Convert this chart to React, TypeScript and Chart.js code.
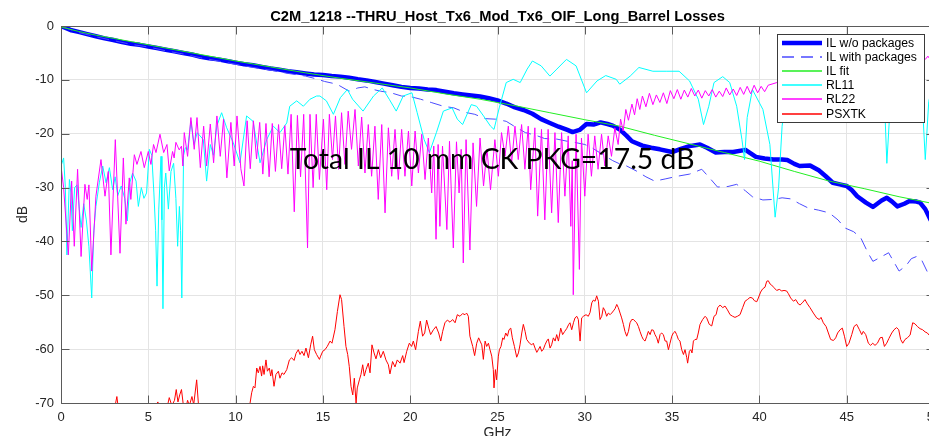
import React, { useEffect, useRef } from "react";
import { Chart, registerables } from "chart.js";

Chart.register(...registerables);

// ---------- text ----------
const TITLE = "C2M_1218 --THRU_Host_Tx6_Mod_Tx6_OIF_Long_Barrel Losses";
const X_LABEL = "GHz";
const Y_LABEL = "dB";
const ANNOTATION = "Total IL 10 mm CK PKG=17.5 dB";
const ANNOTATION_AT: [number, number] = [13.1, -26.6];
const SERIES_NAMES = ["IL w/o packages", "IL with packages", "IL fit", "RL11", "RL22", "PSXTK"];

// ---------- axes ----------
const X_TICKS = [0, 5, 10, 15, 20, 25, 30, 35, 40, 45, 50];
const Y_TICKS = [-70, -60, -50, -40, -30, -20, -10, 0];

// ---------- data: [GHz, dB] ----------
const ilNoPkg: [number, number][] = [
  [0, 0], [0.3, -0.4], [0.6, -0.8], [1, -1.1], [1.5, -1.5], [2, -1.9], [2.5, -2.3], [3, -2.6], [3.5, -3.0],
  [4, -3.3], [4.5, -3.5], [5, -3.8], [5.5, -4.1], [6, -4.4], [6.5, -4.7], [7, -5.0], [7.5, -5.3], [8, -5.7],
  [8.5, -6.0], [9, -6.2], [9.5, -6.5], [10, -6.8], [10.5, -7.1], [11, -7.3], [11.5, -7.6], [12, -7.9],
  [12.5, -8.1], [13, -8.4], [13.5, -8.6], [14, -8.8], [14.5, -9.0], [15, -9.1], [15.5, -9.3], [16, -9.4],
  [16.5, -9.6], [17, -9.9], [17.5, -10.1], [18, -10.4], [18.5, -10.7], [19, -11.0], [19.5, -11.3], [20, -11.5],
  [20.5, -11.6], [21, -11.8], [21.5, -11.9], [22, -12.2], [22.5, -12.5], [23, -12.7], [23.5, -12.9], [24, -13.1],
  [24.5, -13.4], [25, -13.8], [25.5, -14.4], [26, -15.1], [26.5, -15.6], [27, -16.3], [27.5, -17.3], [28, -18.0],
  [28.5, -18.7], [29, -19.3], [29.3, -19.7], [29.7, -19.3], [30.1, -18.2], [30.5, -18.3], [30.9, -17.9],
  [31.3, -18.2], [31.6, -18.5], [32, -19.2], [32.4, -20.4], [32.7, -21.4], [33.3, -22.2], [33.8, -22.6],
  [34.3, -22.9], [35, -23.4], [35.5, -22.8], [36, -22.3], [36.6, -22.0], [37, -22.6], [37.5, -23.5], [38, -23.4],
  [38.5, -23.4], [39.2, -23.0], [39.8, -24.3], [40.3, -24.6], [40.8, -24.8], [41.3, -24.8], [41.6, -24.9],
  [42, -25.6], [42.3, -26.0], [42.9, -25.9], [43.4, -26.8], [43.8, -27.9], [44.2, -29.1], [44.6, -29.4],
  [45, -29.7], [45.3, -30.5], [45.6, -31.6], [46.1, -32.8], [46.5, -33.6], [47, -32.4], [47.3, -31.9],
  [47.6, -32.6], [47.9, -33.5], [48.3, -33.0], [48.6, -32.5], [49, -32.6], [49.2, -32.8], [49.5, -34.0],
  [49.8, -36.0], [50, -37.0],
];

const ilWithPkg: [number, number][] = [
  [0, 0], [1, -1.2], [2, -2.0], [3, -2.7], [4, -3.4], [5, -3.9], [6, -4.6], [7, -5.2], [8, -5.9], [9, -6.5],
  [10, -7.1], [11, -7.7], [12, -8.2], [13, -8.8], [14, -9.3], [14.6, -9.8], [15.1, -10.3], [15.8, -10.8],
  [16.5, -12.1], [17.0, -11.5], [17.4, -11.3], [17.9, -11.8], [18.3, -12.1], [18.9, -12.4], [19.5, -13.0],
  [20.0, -13.1], [20.6, -13.6], [21.2, -14.2], [21.9, -14.9], [22.5, -15.2], [23.1, -16.0], [23.7, -16.4],
  [24.3, -17.2], [24.9, -17.3], [25.5, -17.7], [26.1, -18.9], [26.6, -19.8], [27.2, -20.3], [27.7, -20.9],
  [28.4, -21.0], [29.0, -21.4], [29.4, -21.6], [30.0, -22.0], [30.4, -22.6], [31.0, -23.8], [31.6, -25.0],
  [32.0, -25.6], [32.4, -26.0], [33.0, -27.0], [33.5, -28.0], [34.0, -28.8], [34.6, -28.4], [35.3, -27.9],
  [36.0, -27.5], [36.7, -26.6], [37.2, -28.4], [37.6, -29.9], [38.2, -29.8], [38.7, -29.4], [39.2, -30.6],
  [39.6, -31.7], [40.2, -32.3], [40.8, -32.2], [41.3, -31.9], [41.8, -32.1], [42.3, -33.0], [42.8, -33.8],
  [43.4, -34.2], [44.0, -34.7], [44.5, -36.0], [44.9, -37.5], [45.4, -38.2], [45.8, -39.3], [46.2, -42.0],
  [46.5, -43.7], [46.9, -43.0], [47.4, -42.1], [47.7, -43.8], [48.0, -45.5], [48.4, -44.5], [48.7, -43.2],
  [49.0, -42.8], [49.3, -43.5], [49.7, -46.2], [50, -47.5],
];

const ilFit: [number, number][] = [
  [0, -0.2], [1, -1.0], [2, -1.7], [3, -2.3], [4, -2.9], [6, -4.1], [8, -5.3], [10, -6.5], [12, -7.6],
  [14, -8.7], [16, -9.7], [18, -10.6], [20, -11.5], [22, -12.6], [24, -13.6], [26, -14.8], [28, -16.1],
  [30, -17.4], [32, -18.6], [34, -20.3], [36, -21.9], [38, -23.5], [40, -25.1], [42, -27.0], [44, -28.8],
  [46, -30.2], [48, -31.7], [50, -33.0],
];

const rl11: [number, number][] = [
  [0, -26], [0.15, -24.5], [0.25, -30], [0.34, -42.5], [0.48, -28.5], [0.57, -31], [0.65, -38], [0.78, -30],
  [0.92, -29.5], [1.05, -34], [1.15, -37.4], [1.3, -33], [1.45, -36], [1.6, -41], [1.76, -50.5], [1.88, -38],
  [2.0, -33.5], [2.2, -29], [2.39, -26], [2.58, -29.1], [2.77, -26.3], [2.96, -30.4], [3.1, -28], [3.25, -31.5],
  [3.45, -29.7], [3.65, -32], [3.8, -36.2], [3.95, -29], [4.1, -27.3], [4.3, -28.8], [4.43, -33.5], [4.6, -30],
  [4.75, -32], [4.9, -31], [5.06, -22.9], [5.2, -24], [5.32, -31], [5.42, -38], [5.5, -48.3], [5.6, -34],
  [5.73, -24.2], [5.78, -36], [5.84, -52.5], [5.92, -30], [6.0, -27.3], [6.15, -34], [6.3, -27], [6.45, -25.5],
  [6.58, -32], [6.68, -40.9], [6.78, -33.5], [6.85, -38], [6.92, -50.5], [7.02, -24], [7.12, -22.6],
  [7.25, -23], [7.44, -17.7], [7.62, -22], [7.8, -19.8], [8.15, -21.1], [8.34, -28.8], [8.55, -22],
  [8.73, -24], [8.93, -18.5], [9.2, -16.1], [9.49, -18.9], [9.87, -21.7], [10.25, -25.4], [10.63, -16.7],
  [11.0, -17.7], [11.4, -25.4], [11.78, -21.1], [12.16, -18.6], [12.54, -19.8], [12.93, -18.0], [13.1, -14.9],
  [13.5, -13.9], [13.88, -14.9], [14.26, -13.6], [14.64, -13.0], [14.83, -13.0], [15.2, -13.9], [15.6, -16.4],
  [16.0, -13.3], [16.4, -11.8], [16.7, -13.6], [17.3, -15.8], [17.9, -13.0], [18.4, -11.5], [18.8, -13.6],
  [19.2, -15.8], [19.6, -13.0], [20.1, -12.4], [20.4, -16.1], [20.8, -21.1], [21.1, -23.5], [21.5, -19.8],
  [21.9, -15.8], [22.4, -15.2], [22.7, -17.3], [23.0, -18.3], [23.5, -14.6], [23.8, -14.9], [24.2, -16.7],
  [24.6, -18.6], [24.8, -19.2], [25.1, -15.2], [25.5, -10.5], [25.9, -9.9], [26.3, -10.5], [26.7, -8.0],
  [27.0, -6.5], [27.5, -7.4], [28.0, -9.3], [28.4, -8.0], [28.95, -6.2], [29.5, -7.4], [30.1, -12.4],
  [30.7, -10.2], [31.2, -9.2], [31.8, -9.9], [32.0, -10.8], [32.6, -9.3], [33.1, -7.7], [33.9, -8.4],
  [34.7, -8.4], [35.4, -8.4], [36.0, -10.2], [36.5, -13.6], [36.8, -18.3], [37.1, -14.9], [37.4, -10.5],
  [37.9, -9.4], [38.3, -10.5], [38.7, -14.9], [39.0, -21.1], [39.15, -24.8], [39.3, -17], [39.6, -11.8],
  [40.2, -15.5], [40.6, -22], [40.9, -35.5], [41.1, -30], [41.3, -18.6], [41.5, -13.6], [41.8, -9],
  [42.5, -7.5], [43.5, -8], [44.5, -7], [45.5, -8.5], [46.5, -7.5], [47.0, -10], [47.2, -17], [47.3, -25.5],
  [47.45, -17], [47.6, -10], [48.3, -8], [49.0, -8.5], [49.3, -12], [49.5, -24.8], [49.7, -14], [50, -10],
];

const rl22: [number, number][] = [
  [0, -26.0], [0.15, -30], [0.42, -42.5], [0.61, -28.8], [0.76, -40.9], [0.95, -26.6], [1.15, -42.8],
  [1.37, -29.4], [1.5, -32.2], [1.6, -29.5], [1.76, -45.5], [2.0, -31.6], [2.29, -24.8], [2.52, -31.6],
  [2.71, -27], [2.86, -42.5], [3.11, -21.1], [3.38, -42.2], [3.57, -24.5], [3.72, -36.8], [3.91, -28.2],
  [4.0, -32.2], [4.2, -23.9], [4.35, -25.7], [4.58, -23.3], [4.77, -26.3], [5.0, -23.3], [5.15, -25.7],
  [5.3, -22.0], [5.44, -23.5], [5.67, -20.1], [5.88, -23.5], [6.07, -22.0], [6.2, -26.9], [6.39, -23.3],
  [6.48, -24.5], [6.58, -21.6], [6.77, -23], [6.9, -22.3], [6.98, -26], [7.06, -19.8], [7.25, -24.2],
  [7.44, -17], [7.63, -22.9], [7.79, -17], [7.98, -26.3], [8.17, -18.6], [8.34, -26.0], [8.55, -18.2],
  [8.74, -25.4], [8.93, -16.7], [9.12, -24.2], [9.31, -17.3], [9.5, -28.2], [9.73, -17.9], [9.92, -26.0],
  [10.08, -16.7], [10.3, -26.5], [10.48, -29.7], [10.66, -17.6], [10.84, -26.5], [11.02, -17.6],
  [11.2, -24.7], [11.38, -17.9], [11.56, -27.5], [11.74, -18.1], [11.92, -28], [12.1, -18.1], [12.28, -27],
  [12.46, -18.3], [12.64, -26.5], [12.82, -18.5], [13.0, -27.5], [13.18, -16.4], [13.36, -34.5],
  [13.54, -16.6], [13.72, -28], [13.9, -16.4], [14.12, -41.2], [14.26, -16.4], [14.44, -30], [14.62, -16.4],
  [14.8, -28.5],
  [15.03, -17.3], [15.22, -30.4], [15.37, -16.4], [15.55, -24.8], [15.72, -16.7], [15.9, -26.6],
  [16.07, -16.1], [16.26, -25.7], [16.45, -15.8], [16.64, -22.9], [16.84, -15.5], [17.03, -26.0],
  [17.22, -16.9], [17.41, -27.3], [17.6, -18.3], [17.79, -27.9], [17.98, -18.6], [18.17, -32.2],
  [18.37, -18.3], [18.56, -34.7], [18.75, -18.9], [18.94, -27.9], [19.13, -19.2], [19.32, -28.5],
  [19.51, -19.2], [19.7, -27.9], [19.9, -19.5], [20.09, -29.7], [20.28, -19.5], [20.47, -27.3],
  [20.66, -20.1], [20.85, -28.5], [21.04, -20.8], [21.23, -31.0], [21.35, -22.3], [21.48, -39.6],
  [21.6, -22.0], [21.7, -37.2], [21.85, -22.3], [22.1, -37.8], [22.25, -21.4], [22.47, -41.2],
  [22.65, -21.5], [22.8, -31], [22.92, -22.9], [23.04, -44.0], [23.2, -21.1], [23.42, -41.6], [23.6, -21.7],
  [23.8, -33.5], [24.0, -20.8], [24.2, -29.7], [24.4, -22.9], [24.6, -30.4], [24.85, -21.1], [25.05, -27.9],
  [25.23, -19.8], [25.43, -24.2], [25.62, -18.6], [25.81, -25.4], [26.0, -18.6], [26.19, -24.8],
  [26.38, -18.3], [26.57, -26.6], [26.76, -18.6], [26.9, -30.4], [27.14, -18.9], [27.3, -35.3],
  [27.52, -19.2], [27.71, -36.0], [27.9, -19.2], [28.1, -34.7], [28.29, -19.8], [28.48, -36.5],
  [28.67, -19.8], [28.86, -31.6], [29.05, -20.4], [29.2, -37.2], [29.28, -25], [29.34, -49.9], [29.5, -20.1],
  [29.69, -45.2], [29.81, -20.8], [30.0, -31.6], [30.19, -20.1], [30.38, -27.9], [30.57, -20.4],
  [30.76, -26.6], [30.96, -20.1], [31.15, -26.0], [31.34, -20.4], [31.53, -24.2], [31.72, -18.9],
  [31.91, -22.0], [32.05, -17.3], [32.2, -19.5], [32.35, -15.5], [32.5, -17.5], [32.7, -14.5], [32.85, -16.5],
  [33.0, -13.5], [33.15, -15.5], [33.3, -13.0], [33.5, -15.0], [33.7, -12.5], [33.9, -14.6], [34.1, -12.8],
  [34.3, -14.2], [34.5, -12.4], [34.7, -14.4], [34.9, -12.0], [35.1, -13.5], [35.3, -11.8], [35.5, -13.6],
  [35.7, -11.9], [35.9, -13.2], [36.1, -11.6], [36.3, -13.0], [36.5, -11.9], [36.7, -13.4], [36.9, -12.0],
  [37.1, -13.0], [37.3, -11.8], [37.5, -13.2], [37.7, -12.1], [37.9, -13.1], [38.1, -11.5], [38.3, -12.8],
  [38.5, -11.7], [38.7, -12.9], [38.9, -11.4], [39.1, -12.7], [39.3, -11.2], [39.5, -12.6], [39.7, -11.0],
  [39.9, -12.4], [40.1, -11.2], [40.3, -12.2], [40.5, -11.0], [41, -10.5], [42, -10], [43, -9.5], [44, -9],
  [45, -8.5], [46, -8], [47, -7.5], [48, -7], [49, -6.5], [49.5, -6.2], [49.65, -5.6], [49.8, -6.3], [50, -5.6],
];

const psxtk: [number, number][] = [
  [0, -78], [1, -80], [2, -77], [2.9, -76], [3.1, -70.5], [3.2, -68.8], [3.3, -71.5], [3.6, -76], [4.5, -78],
  [5.3, -74], [5.45, -70.3], [5.55, -69.8], [5.65, -71], [6.0, -72], [6.2, -69], [6.35, -70.5], [6.5, -69.5],
  [6.6, -67.5], [6.7, -69.8], [6.8, -68.5], [6.9, -67.5], [7.0, -70.2], [7.15, -71], [7.25, -69.5],
  [7.35, -70.5], [7.5, -68.8], [7.6, -70.3], [7.77, -65.7], [7.9, -71.5], [8.2, -76], [9, -78], [9.7, -72],
  [9.8, -70], [9.9, -71], [10.05, -69.9], [10.2, -72], [10.6, -74],
  [10.83, -70], [10.92, -68.1], [11.02, -66.9], [11.11, -67.2], [11.21, -63.5], [11.3, -64.4], [11.4, -63.2],
  [11.49, -65.0], [11.55, -63.1], [11.63, -64.7], [11.74, -62.0], [11.82, -64.1], [11.93, -63.5],
  [12.01, -65.0], [12.08, -63.8], [12.2, -66.9], [12.31, -64.7], [12.45, -64.1], [12.54, -65.4],
  [12.66, -64.4], [12.77, -64.7], [12.93, -63.8], [13.08, -62.0], [13.21, -61.6], [13.35, -62.1],
  [13.46, -60.8], [13.59, -60.1], [13.69, -61.0], [13.8, -60.4], [13.92, -61.2], [14.03, -59.8],
  [14.17, -61.6], [14.3, -59.2], [14.41, -57.6], [14.51, -60.1], [14.64, -61.0], [14.8, -61.9],
  [14.87, -61.3], [14.99, -60.4], [15.12, -60.1], [15.25, -59.5], [15.41, -58.5], [15.52, -58.9],
  [15.69, -56.4], [15.83, -53.0], [15.98, -49.9], [16.07, -50.8], [16.21, -55.8], [16.32, -59.5],
  [16.42, -61.0], [16.51, -63.2], [16.61, -66.9], [16.71, -68.5], [16.8, -65.4], [16.9, -70],
  [16.97, -67.2], [17.09, -65.7], [17.18, -64.7], [17.28, -62.9], [17.37, -65.0], [17.47, -63.8],
  [17.6, -62.6], [17.7, -64.4], [17.81, -59.2], [17.93, -60.7], [18.04, -61.8], [18.18, -60.1],
  [18.31, -61.6], [18.46, -60.4], [18.61, -62.0], [18.75, -62.9], [18.84, -64.6], [18.99, -62.3],
  [19.13, -63.3], [19.26, -62.0], [19.42, -62.6], [19.57, -61.2], [19.65, -62.5], [19.8, -60.4],
  [19.95, -58.9], [20.08, -59.5], [20.18, -58.5], [20.31, -60.1], [20.47, -56.7], [20.58, -54.8],
  [20.71, -57.6], [20.83, -57.0], [20.94, -54.6], [21.06, -56.1], [21.17, -57.3], [21.33, -56.4],
  [21.48, -55.8], [21.63, -57.0], [21.75, -58.5], [21.86, -56.7], [21.99, -55.1], [22.13, -54.6],
  [22.28, -55.0], [22.43, -54.5], [22.57, -55.1], [22.7, -53.6], [22.85, -53.9], [23.0, -53.4],
  [23.14, -53.6], [23.23, -53.3], [23.33, -53.9], [23.42, -57.6], [23.58, -59.5], [23.69, -61.2],
  [23.81, -58.9], [23.92, -57.9], [24.0, -58.5], [24.1, -59.2], [24.19, -61.9], [24.29, -58.5],
  [24.38, -59.5], [24.48, -58.9], [24.57, -60.1], [24.67, -61.3], [24.76, -63.8], [24.8, -67.2],
  [24.88, -63.8], [24.95, -65.7], [25.05, -61.3], [25.11, -60.1], [25.2, -59.5], [25.3, -57.9],
  [25.37, -58.2], [25.47, -57.0], [25.57, -57.6], [25.66, -56.4], [25.76, -56.1], [25.85, -57.9],
  [25.97, -59.5], [26.1, -61.5], [26.2, -60.7], [26.29, -59.2], [26.39, -57.0], [26.48, -55.4],
  [26.58, -56.7], [26.67, -58.2], [26.83, -58.9], [26.96, -59.2], [27.05, -58.9], [27.15, -59.8],
  [27.25, -60.6], [27.34, -60.1], [27.44, -59.5], [27.53, -60.4], [27.63, -60.0], [27.72, -59.2],
  [27.82, -58.5], [27.91, -58.1], [28.01, -59.8], [28.1, -59.2], [28.2, -57.9], [28.3, -58.5],
  [28.39, -57.3], [28.49, -58.5], [28.62, -56.1], [28.73, -57.3], [28.85, -56.7], [28.96, -56.2],
  [29.08, -55.4], [29.15, -55.1], [29.25, -56.4], [29.35, -55.1], [29.44, -54.2], [29.54, -53.9],
  [29.63, -54.5], [29.73, -58.5], [29.82, -54.2], [29.92, -53.9], [30.07, -53.6], [30.2, -53.9],
  [30.3, -53.2], [30.4, -51.4], [30.49, -50.9], [30.59, -51.1], [30.68, -50.1], [30.78, -51.1],
  [30.87, -54.5], [30.97, -53.9], [31.06, -52.3], [31.16, -52.9], [31.25, -53.9], [31.35, -53.3],
  [31.45, -53.6], [31.54, -53.3], [31.64, -52.9], [31.73, -52.5], [31.83, -51.7], [31.92, -52.3],
  [32.02, -53.3], [32.11, -54.2], [32.21, -55.4], [32.3, -56.7], [32.4, -57.6], [32.5, -56.7],
  [32.59, -55.1], [32.69, -54.5], [32.78, -54.5], [32.88, -54.8], [32.97, -55.1], [33.07, -55.8],
  [33.16, -56.7], [33.26, -57.6], [33.35, -58.2], [33.45, -58.5], [33.55, -57.6], [33.64, -56.7],
  [33.74, -57.3], [33.83, -56.4], [33.93, -56.5], [34.02, -57.3], [34.12, -57.9], [34.21, -58.9],
  [34.31, -57.3], [34.4, -57.0], [34.5, -57.3], [34.6, -58.5], [34.69, -58.5], [34.79, -60.1],
  [34.88, -58.9], [34.98, -57.6], [35.07, -57.0], [35.17, -56.7], [35.26, -57.3], [35.36, -58.2],
  [35.45, -58.5], [35.55, -60.1], [35.65, -61.0], [35.74, -60.1], [35.84, -61.6], [35.89, -62.6],
  [35.99, -60.4], [36.07, -60.1], [36.14, -60.7], [36.22, -58.5], [36.31, -58.2], [36.41, -58.2],
  [36.5, -57.0], [36.6, -55.4], [36.75, -54.5], [36.89, -53.9], [36.98, -54.2], [37.13, -55.4],
  [37.27, -55.7], [37.4, -53.9], [37.52, -53.6], [37.61, -52.3], [37.75, -51.8], [37.9, -52.3],
  [38.03, -52.0], [38.17, -52.7], [38.32, -53.6], [38.47, -53.9], [38.6, -54.1], [38.74, -53.9],
  [38.89, -53.6], [39.04, -52.3], [39.18, -51.1], [39.31, -50.8], [39.46, -50.4], [39.6, -50.5],
  [39.71, -51.0], [39.85, -51.2], [39.94, -50.5], [40.07, -49.4], [40.19, -48.8], [40.32, -48.5],
  [40.42, -47.4], [40.51, -47.3], [40.61, -47.9], [40.7, -48.1], [40.84, -48.6], [40.99, -49.1],
  [41.14, -48.9], [41.28, -49.2], [41.41, -49.1], [41.56, -49.2], [41.66, -49.7], [41.79, -50.5],
  [41.95, -51.1], [42.08, -50.8], [42.23, -51.6], [42.33, -51.8], [42.46, -51.4], [42.61, -50.8],
  [42.75, -51.6], [42.9, -52.3], [43.09, -53.3], [43.28, -54.2], [43.43, -54.5], [43.53, -54.1],
  [43.66, -55.1], [43.82, -55.8], [43.95, -57.0], [44.08, -58.2], [44.24, -58.4], [44.37, -57.9],
  [44.48, -57.0], [44.62, -56.4], [44.75, -56.1], [44.87, -57.6], [45.0, -59.5], [45.13, -58.9],
  [45.29, -57.3], [45.42, -55.8], [45.57, -55.4], [45.73, -56.4], [45.86, -57.3], [45.95, -56.7],
  [46.09, -57.3], [46.24, -58.9], [46.37, -59.3], [46.49, -58.9], [46.62, -59.3], [46.76, -58.9],
  [46.91, -57.9], [47.04, -57.8], [47.16, -59.5], [47.29, -58.9], [47.42, -58.0], [47.58, -57.0],
  [47.71, -56.4], [47.86, -56.0], [47.98, -56.4], [48.09, -58.2], [48.21, -58.9], [48.34, -58.2],
  [48.47, -57.9], [48.63, -57.4], [48.78, -55.1], [48.91, -55.3], [49.05, -55.8], [49.2, -56.2],
  [49.35, -56.4], [49.49, -56.8], [49.62, -57.0], [49.72, -57.4], [50, -58.0],
];

// ---------- styles ----------
const COLORS = ["#0000ff", "#4b4bff", "#22ee22", "#00ffff", "#ff00ff", "#ff0000"];
const WIDTHS = [4.5, 1, 1, 1, 1, 1];
const DASH = [12, 7];
const AXIS_COLOR = "#5a5a5a";
const GRID_COLOR = "#e4e4e4";
const TEXT_COLOR = "#262626";
const SANS = "'Liberation Sans', Arial, sans-serif";

const CANVAS_W = 950;
const CANVAS_H = 446;

function fitSize(ctx: CanvasRenderingContext2D, text: string, weight: string, family: string, target: number) {
  ctx.font = `${weight} 100px ${family}`;
  const w = ctx.measureText(text).width;
  return (100 * target) / w;
}

export default function App() {
  const ref = useRef<HTMLCanvasElement>(null);

  useEffect(() => {
    const canvas = ref.current!;
    const toXY = (arr: [number, number][]) => arr.map(([x, y]) => ({ x, y }));
    const all = [ilNoPkg, ilWithPkg, ilFit, rl11, rl22, psxtk];

    const decor = {
      id: "decor",
      afterDatasetsDraw(chart: any) {
        const { ctx, chartArea: a, scales } = chart;
        const xs = scales.x;
        const ys = scales.y;
        ctx.save();

        // annotation text
        const aSize = fitSize(ctx, ANNOTATION, "400", "Lato, 'Open Sans', sans-serif", 405);
        ctx.font = `400 ${aSize}px Lato, 'Open Sans', sans-serif`;
        ctx.fillStyle = "#000";
        ctx.textAlign = "left";
        ctx.textBaseline = "alphabetic";
        ctx.fillText(ANNOTATION, xs.getPixelForValue(ANNOTATION_AT[0]), ys.getPixelForValue(ANNOTATION_AT[1]));

        // box
        ctx.strokeStyle = AXIS_COLOR;
        ctx.lineWidth = 1;
        const L = Math.round(a.left) + 0.5;
        const T = Math.round(a.top) + 0.5;
        const R = Math.round(a.right) + 0.5;
        const B = Math.round(a.bottom) + 0.5;
        ctx.beginPath();
        ctx.moveTo(L, T);
        ctx.lineTo(R, T);
        ctx.lineTo(R, B);
        ctx.lineTo(L, B);
        ctx.closePath();
        ctx.stroke();

        // inward ticks
        ctx.beginPath();
        X_TICKS.forEach((v) => {
          const px = Math.round(xs.getPixelForValue(v)) + 0.5;
          ctx.moveTo(px, B);
          ctx.lineTo(px, B - 8);
          ctx.moveTo(px, T);
          ctx.lineTo(px, T + 8);
        });
        Y_TICKS.forEach((v) => {
          const py = Math.round(ys.getPixelForValue(v)) + 0.5;
          ctx.moveTo(L, py);
          ctx.lineTo(L + 8, py);
          ctx.moveTo(R, py);
          ctx.lineTo(R - 8, py);
        });
        ctx.stroke();

        // legend
        const lw = 147;
        const lh = 88;
        const lx = Math.round(a.right) - 10 - lw;
        const ly = Math.round(a.top) + 8;
        ctx.fillStyle = "#fff";
        ctx.fillRect(lx, ly, lw, lh);
        ctx.strokeStyle = "#3a3a3a";
        ctx.lineWidth = 1;
        ctx.strokeRect(lx + 0.5, ly + 0.5, lw, lh);
        const lSize = fitSize(ctx, SERIES_NAMES[1], "400", SANS, 91);
        SERIES_NAMES.forEach((name, i) => {
          const cy = Math.round(ly + 9 + i * 14.1);
          ctx.save();
          ctx.strokeStyle = COLORS[i];
          ctx.lineWidth = i === 0 ? WIDTHS[i] : 1.3;
          ctx.setLineDash(i === 1 ? DASH : []);
          ctx.beginPath();
          ctx.moveTo(lx + 5, cy);
          ctx.lineTo(lx + 45, cy);
          ctx.stroke();
          ctx.restore();
          ctx.fillStyle = "#000";
          ctx.font = `400 ${lSize}px ${SANS}`;
          ctx.textAlign = "left";
          ctx.textBaseline = "middle";
          ctx.fillText(name, lx + 49, cy + 0.5);
        });

        // title
        const tSize = fitSize(ctx, TITLE, "700", SANS, 455);
        ctx.font = `700 ${tSize}px ${SANS}`;
        ctx.fillStyle = "#000";
        ctx.textAlign = "center";
        ctx.textBaseline = "alphabetic";
        ctx.fillText(TITLE, (a.left + a.right) / 2, 20.5);

        // axis labels
        ctx.font = `400 14px ${SANS}`;
        ctx.fillStyle = TEXT_COLOR;
        ctx.fillText(X_LABEL, (a.left + a.right) / 2, 437);
        ctx.save();
        ctx.translate(27, (a.top + a.bottom) / 2);
        ctx.rotate(-Math.PI / 2);
        ctx.textAlign = "center";
        ctx.fillText(Y_LABEL, 0, 0);
        ctx.restore();

        ctx.restore();
      },
    };

    const chart = new Chart(canvas, {
      type: "line",
      data: {
        datasets: all.map((arr, i) => ({
          label: SERIES_NAMES[i],
          data: toXY(arr),
          borderColor: COLORS[i],
          backgroundColor: COLORS[i],
          borderWidth: WIDTHS[i],
          borderDash: i === 1 ? DASH : [],
          pointRadius: 0,
          tension: 0,
          fill: false,
          borderJoinStyle: "round",
          borderCapStyle: i === 0 ? "round" : "butt",
          order: 6 - i,
        })),
      },
      options: {
        animation: false,
        responsive: false,
        devicePixelRatio: 1,
        parsing: true,
        layout: { padding: { left: 0, top: 26, right: CANVAS_W - 934, bottom: 0 } },
        plugins: { legend: { display: false }, tooltip: { enabled: false }, title: { display: false } },
        scales: {
          x: {
            type: "linear",
            min: 0,
            max: 50,
            afterBuildTicks: (axis: any) => {
              axis.ticks = X_TICKS.map((v) => ({ value: v }));
            },
            afterFit: (s: any) => {
              s.height = CANVAS_H - 403;
            },
            grid: { color: GRID_COLOR, drawTicks: false, lineWidth: 1 },
            border: { display: false },
            ticks: {
              padding: 7,
              maxRotation: 0,
              autoSkip: false,
              color: TEXT_COLOR,
              font: { family: SANS, size: 13 },
            },
          },
          y: {
            type: "linear",
            min: -70,
            max: 0,
            afterBuildTicks: (axis: any) => {
              axis.ticks = Y_TICKS.map((v) => ({ value: v }));
            },
            afterFit: (s: any) => {
              s.width = 61;
            },
            grid: { color: GRID_COLOR, drawTicks: false, lineWidth: 1 },
            border: { display: false },
            ticks: {
              padding: 7,
              color: TEXT_COLOR,
              font: { family: SANS, size: 13 },
            },
          },
        },
      },
      plugins: [decor],
    } as any);

    return () => chart.destroy();
  }, []);

  return (
    <div
      style={{
        position: "fixed",
        left: 0,
        top: 0,
        width: 929,
        height: 436,
        overflow: "hidden",
        background: "#fff",
      }}
    >
      <canvas ref={ref} width={CANVAS_W} height={CANVAS_H} style={{ display: "block", width: CANVAS_W, height: CANVAS_H }} />
    </div>
  );
}
